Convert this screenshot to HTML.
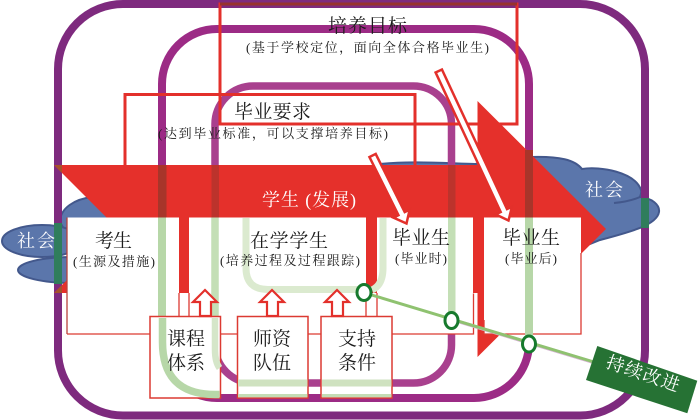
<!DOCTYPE html>
<html><head><meta charset="utf-8">
<style>html,body{margin:0;padding:0;background:#fff}svg{display:block}
text{font-family:"Liberation Serif","Noto Serif CJK SC",serif;fill:#1c1c1c}</style></head>
<body>
<svg width="700" height="420" viewBox="0 0 700 420" xmlns="http://www.w3.org/2000/svg">
<!-- clouds -->
<g fill="#5b76ab" stroke="#43588c" stroke-width="2">
<path d="M60,222 C60,208 75,199 92,197 L200,175 L378,175 L380,164 C410,161 440,163 475,164 L530,157 C560,156 575,160 582,169 C600,166 635,172 641,190 C642,193 640,196 640,197 C652,198 660,205 659,212 C657,225 630,232 600,240 L585,246 L300,260 L70,240 Z"/>
<ellipse cx="72" cy="270" rx="54" ry="13"/>
<ellipse cx="42" cy="241" rx="40" ry="16"/>
</g>
<path d="M614,203 C625,202 633,200 640,197" fill="none" stroke="#43588c" stroke-width="2"/>
<!-- purple frames -->
<rect x="58" y="4" width="587" height="411.5" rx="65" fill="none" stroke="#7e2a7e" stroke-width="8"/>
<rect x="162" y="29" width="367" height="369" rx="55" fill="none" stroke="#9c2b85" stroke-width="8"/>
<rect x="215" y="86" width="236.5" height="297" rx="38" fill="none" stroke="#a9408e" stroke-width="7.5"/>
<!-- red rects -->
<rect x="220" y="4" width="297" height="120" fill="none" stroke="#e3302b" stroke-width="3"/>
<path d="M220,4H517" stroke="#97322f" stroke-width="3"/>
<path d="M125,166V94.500H415V166" fill="none" stroke="#e3302b" stroke-width="3"/>
<!-- red arrow -->
<polygon points="54,165 477.500,165 477.500,101 606,229 477.500,357 477.500,293 54,293 118,229" fill="#e5302b"/>
<polygon points="54,165 62,165 62,173" fill="#a5522c"/>
<polygon points="54,293 62,293 62,285" fill="#a5522c"/>
<!-- white boxes -->
<g fill="#fff">
<rect x="67" y="217.500" width="112" height="116.500"/>
<rect x="189" y="217.500" width="177" height="116.500"/>
<rect x="377" y="217.500" width="96" height="116.500"/>
<rect x="484" y="217.500" width="97" height="116.500"/>
<rect x="179" y="293" width="10" height="41"/>
<rect x="366" y="293" width="11" height="41"/>
<rect x="473" y="293" width="4.500" height="41"/>
</g>
<path d="M484,334H581V253M484,334V320M67,334H473.500V293.500" fill="none" stroke="#dc3a32" stroke-width="1.300"/>
<path d="M67,217.500V334" stroke="#b8433c" stroke-width="1.300"/>
<path d="M179,293V316M189,293V316M366,293V316M377,293V316" stroke="#dc3a32" stroke-width="1.300"/>
<!-- palest green -->
<path d="M246,218V268Q246,289.500 268,289.500H360M383,218V268Q383,285 372,290" fill="none" stroke="#dbeacf" stroke-width="7"/>
<!-- dark overlay on band -->
<rect x="158" y="165" width="8.500" height="52.500" fill="#a8352a"/>
<rect x="211.500" y="165" width="7.500" height="52.500" fill="#bc332c"/>
<rect x="448" y="165" width="7.500" height="52.500" fill="#bc332c"/>
<rect x="525" y="150" width="8" height="67.500" fill="#a8352a"/>
<!-- green overlays -->
<rect x="54" y="223" width="8" height="61" fill="#2f7d5c"/>
<rect x="641" y="198" width="8" height="30" fill="#2f7d5c"/>
<path d="M162,217.500V318" fill="none" stroke="#b7d7a8" stroke-width="8"/>
<path d="M215,217.500V318" fill="none" stroke="#c4dfb6" stroke-width="7.500"/>
<rect x="448" y="217.500" width="7.500" height="96" fill="#c4dfb6"/>
<rect x="525" y="217.500" width="8" height="122" fill="#b7d7a8"/>
<!-- lower boxes -->
<g fill="#fff" stroke="#dc3a32" stroke-width="1.500">
<rect x="150" y="316.500" width="70.500" height="81.500"/>
<rect x="237.500" y="316.500" width="70.500" height="81.500"/>
<rect x="321" y="316.500" width="71" height="81.500"/>
</g>
<path d="M162.500,318V342Q162.500,394.500 215,394.500H219.500" fill="none" stroke="#b7d7a8" stroke-width="7.500"/>
<path d="M215,318V350Q215,362 219.500,368" fill="none" stroke="#d5e6c9" stroke-width="6.500"/>
<rect x="238" y="379.500" width="69.500" height="7" fill="#cfe2c0"/>
<rect x="322" y="379.500" width="69.500" height="7" fill="#cfe2c0"/>
<rect x="238" y="394" width="69.500" height="3.300" fill="#c4dcb4"/>
<rect x="322" y="394" width="69.500" height="3.300" fill="#c4dcb4"/>
<!-- small up arrows -->
<g fill="#fff" stroke="#e3302b" stroke-width="2.200">
<polygon points="205,290 217,302 211,302 211,316 200,316 200,302 193,302"/>
<polygon points="272,290 284,302 278,302 278,316 267,316 267,302 260,302"/>
<polygon points="337,290 349,302 343,302 343,316 332,316 332,302 325,302"/>
</g>
<!-- white slanted arrows -->
<g fill="#fff" stroke="#e3302b" stroke-width="2.500">
<polygon transform="translate(406.500,223.500) rotate(-26.500)" points="0,0 -9,-11 -3.500,-11 -3.500,-76 3.500,-76 3.500,-11 9,-11"/>
<polygon transform="translate(508.500,220.500) rotate(-25)" points="0,0 -9,-11 -3.500,-11 -3.500,-165 3.500,-165 3.500,-11 9,-11"/>
</g>
<!-- green improvement line -->
<path d="M450,319L594,362.500" stroke="#d6b4d4" stroke-width="3.500"/>
<path d="M370,294.500L594,362" stroke="#8fc270" stroke-width="3"/>
<g fill="#fff" stroke="#177a2d" stroke-width="3">
<ellipse cx="364" cy="292.500" rx="7" ry="8"/>
<ellipse cx="451.500" cy="320.500" rx="6.500" ry="8"/>
<ellipse cx="529" cy="344" rx="6.500" ry="8"/>
</g>
<polygon points="597.300,346 697.300,380.700 687.300,413.300 586,380" fill="#267234"/>
<!-- labels -->
<text x="328" y="32" font-size="19" textLength="79">培养目标</text>
<text x="246" y="52" font-size="13" textLength="243">(基于学校定位，面向全体合格毕业生)</text>
<text x="234" y="118" font-size="19" textLength="77">毕业要求</text>
<text x="158" y="138" font-size="13" textLength="230">(达到毕业标准，可以支撑培养目标)</text>
<text x="262" y="206" font-size="18" textLength="94" style="fill:#fff">学生 (发展)</text>
<text x="95" y="247" font-size="19" textLength="37">考生</text>
<text x="73" y="266" font-size="13" textLength="82">(生源及措施)</text>
<text x="250" y="247" font-size="19" textLength="78">在学学生</text>
<text x="220" y="265" font-size="13" textLength="140">(培养过程及过程跟踪)</text>
<text x="392" y="244" font-size="19" textLength="58">毕业生</text>
<text x="395" y="263" font-size="13" textLength="52">(毕业时)</text>
<text x="502" y="244" font-size="19" textLength="58">毕业生</text>
<text x="505" y="263" font-size="13" textLength="52">(毕业后)</text>
<text x="167" y="345" font-size="19" textLength="38">课程</text>
<text x="167" y="369" font-size="19" textLength="38">体系</text>
<text x="253" y="345" font-size="19" textLength="38">师资</text>
<text x="253" y="369" font-size="19" textLength="38">队伍</text>
<text x="338" y="345" font-size="19" textLength="38">支持</text>
<text x="338" y="369" font-size="19" textLength="38">条件</text>
<text x="17" y="247" font-size="18" textLength="38" style="fill:#fff">社会</text>
<text x="585" y="196" font-size="18" textLength="38" style="fill:#fff">社会</text>
<text transform="translate(605,367) rotate(19)" font-size="18" textLength="76" style="fill:#fff">持续改进</text>
</svg>
</body></html>
